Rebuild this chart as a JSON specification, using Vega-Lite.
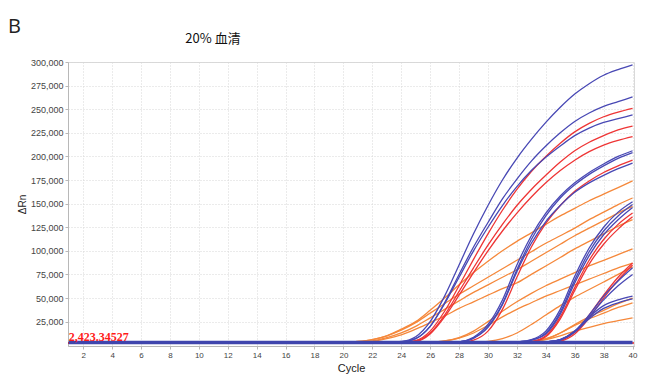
{
  "$schema": "https://vega.github.io/schema/vega-lite/v6.json",
  "width": 566,
  "height": 284,
  "autosize": {"type": "none"},
  "padding": {"left": 68, "top": 62, "right": 18, "bottom": 36},
  "background": "white",
  "title": {"text": "20% 血清", "anchor": "middle", "frame": "group", "dx": -138, "offset": -29, "font": "Noto Sans CJK SC", "fontSize": 13, "fontWeight": "normal", "color": "#111111"},
  "config": {
    "view": {"stroke": "#d9d9d9", "strokeWidth": 1},
    "axis": {"gridColor": "#d6d6d6", "gridDash": [1, 2], "gridWidth": 1, "domainColor": "#b8b8b8", "tickColor": "#b8b8b8", "labelFont": "Liberation Sans", "titleFont": "Liberation Sans", "labelColor": "#444444", "titleColor": "#222222", "titleFontWeight": "normal", "labelOverlap": false, "labelBound": false, "labelFlush": false, "tickCount": 60}
  },
  "datasets": {
    "ntc": [
      {"id": "N1", "cycle": 1, "rn": 2800}, {"id": "N1", "cycle": 40, "rn": 2800}
    ],
    "curves": [
      {"id":"O1","dye":"orange","cycle":1,"rn":2500},{"id":"O1","dye":"orange","cycle":19,"rn":2500},{"id":"O1","dye":"orange","cycle":20,"rn":3000},{"id":"O1","dye":"orange","cycle":21,"rn":4000},{"id":"O1","dye":"orange","cycle":22,"rn":6000},{"id":"O1","dye":"orange","cycle":23,"rn":10000},{"id":"O1","dye":"orange","cycle":24,"rn":17000},{"id":"O1","dye":"orange","cycle":25,"rn":25000},{"id":"O1","dye":"orange","cycle":26,"rn":37000},{"id":"O1","dye":"orange","cycle":27,"rn":50000},{"id":"O1","dye":"orange","cycle":28,"rn":64000},{"id":"O1","dye":"orange","cycle":29,"rn":77000},{"id":"O1","dye":"orange","cycle":30,"rn":89000},{"id":"O1","dye":"orange","cycle":31,"rn":100000},{"id":"O1","dye":"orange","cycle":32,"rn":110000},{"id":"O1","dye":"orange","cycle":33,"rn":119000},{"id":"O1","dye":"orange","cycle":34,"rn":128000},{"id":"O1","dye":"orange","cycle":35,"rn":137000},{"id":"O1","dye":"orange","cycle":36,"rn":145000},{"id":"O1","dye":"orange","cycle":37,"rn":153000},{"id":"O1","dye":"orange","cycle":38,"rn":160000},{"id":"O1","dye":"orange","cycle":39,"rn":167000},{"id":"O1","dye":"orange","cycle":40,"rn":174000},
      {"id":"O2","dye":"orange","cycle":1,"rn":2500},{"id":"O2","dye":"orange","cycle":19,"rn":2500},{"id":"O2","dye":"orange","cycle":20,"rn":3000},{"id":"O2","dye":"orange","cycle":21,"rn":4000},{"id":"O2","dye":"orange","cycle":22,"rn":6000},{"id":"O2","dye":"orange","cycle":23,"rn":10000},{"id":"O2","dye":"orange","cycle":24,"rn":16000},{"id":"O2","dye":"orange","cycle":25,"rn":24000},{"id":"O2","dye":"orange","cycle":26,"rn":34000},{"id":"O2","dye":"orange","cycle":27,"rn":44000},{"id":"O2","dye":"orange","cycle":28,"rn":54000},{"id":"O2","dye":"orange","cycle":29,"rn":63000},{"id":"O2","dye":"orange","cycle":30,"rn":72000},{"id":"O2","dye":"orange","cycle":31,"rn":81000},{"id":"O2","dye":"orange","cycle":32,"rn":90000},{"id":"O2","dye":"orange","cycle":33,"rn":99000},{"id":"O2","dye":"orange","cycle":34,"rn":108000},{"id":"O2","dye":"orange","cycle":35,"rn":116000},{"id":"O2","dye":"orange","cycle":36,"rn":124000},{"id":"O2","dye":"orange","cycle":37,"rn":133000},{"id":"O2","dye":"orange","cycle":38,"rn":141000},{"id":"O2","dye":"orange","cycle":39,"rn":149000},{"id":"O2","dye":"orange","cycle":40,"rn":156000},
      {"id":"O3","dye":"orange","cycle":1,"rn":2500},{"id":"O3","dye":"orange","cycle":20,"rn":2500},{"id":"O3","dye":"orange","cycle":21,"rn":3000},{"id":"O3","dye":"orange","cycle":22,"rn":4500},{"id":"O3","dye":"orange","cycle":23,"rn":8000},{"id":"O3","dye":"orange","cycle":24,"rn":13000},{"id":"O3","dye":"orange","cycle":25,"rn":20000},{"id":"O3","dye":"orange","cycle":26,"rn":29000},{"id":"O3","dye":"orange","cycle":27,"rn":38000},{"id":"O3","dye":"orange","cycle":28,"rn":47000},{"id":"O3","dye":"orange","cycle":29,"rn":56000},{"id":"O3","dye":"orange","cycle":30,"rn":64000},{"id":"O3","dye":"orange","cycle":31,"rn":72000},{"id":"O3","dye":"orange","cycle":32,"rn":80000},{"id":"O3","dye":"orange","cycle":33,"rn":89000},{"id":"O3","dye":"orange","cycle":34,"rn":98000},{"id":"O3","dye":"orange","cycle":35,"rn":107000},{"id":"O3","dye":"orange","cycle":36,"rn":116000},{"id":"O3","dye":"orange","cycle":37,"rn":124000},{"id":"O3","dye":"orange","cycle":38,"rn":132000},{"id":"O3","dye":"orange","cycle":39,"rn":140000},{"id":"O3","dye":"orange","cycle":40,"rn":147000},
      {"id":"O4","dye":"orange","cycle":1,"rn":2500},{"id":"O4","dye":"orange","cycle":20,"rn":2500},{"id":"O4","dye":"orange","cycle":21,"rn":3000},{"id":"O4","dye":"orange","cycle":22,"rn":4000},{"id":"O4","dye":"orange","cycle":23,"rn":7000},{"id":"O4","dye":"orange","cycle":24,"rn":11000},{"id":"O4","dye":"orange","cycle":25,"rn":17000},{"id":"O4","dye":"orange","cycle":26,"rn":24000},{"id":"O4","dye":"orange","cycle":27,"rn":31000},{"id":"O4","dye":"orange","cycle":28,"rn":39000},{"id":"O4","dye":"orange","cycle":29,"rn":46000},{"id":"O4","dye":"orange","cycle":30,"rn":53000},{"id":"O4","dye":"orange","cycle":31,"rn":60000},{"id":"O4","dye":"orange","cycle":32,"rn":66000},{"id":"O4","dye":"orange","cycle":33,"rn":75000},{"id":"O4","dye":"orange","cycle":34,"rn":84000},{"id":"O4","dye":"orange","cycle":35,"rn":93000},{"id":"O4","dye":"orange","cycle":36,"rn":102000},{"id":"O4","dye":"orange","cycle":37,"rn":110000},{"id":"O4","dye":"orange","cycle":38,"rn":118000},{"id":"O4","dye":"orange","cycle":39,"rn":126000},{"id":"O4","dye":"orange","cycle":40,"rn":133000},
      {"id":"O5","dye":"orange","cycle":1,"rn":2500},{"id":"O5","dye":"orange","cycle":25,"rn":2500},{"id":"O5","dye":"orange","cycle":26,"rn":3000},{"id":"O5","dye":"orange","cycle":27,"rn":4500},{"id":"O5","dye":"orange","cycle":28,"rn":8000},{"id":"O5","dye":"orange","cycle":29,"rn":15000},{"id":"O5","dye":"orange","cycle":30,"rn":25000},{"id":"O5","dye":"orange","cycle":31,"rn":36000},{"id":"O5","dye":"orange","cycle":32,"rn":46000},{"id":"O5","dye":"orange","cycle":33,"rn":55000},{"id":"O5","dye":"orange","cycle":34,"rn":63000},{"id":"O5","dye":"orange","cycle":35,"rn":70000},{"id":"O5","dye":"orange","cycle":36,"rn":77000},{"id":"O5","dye":"orange","cycle":37,"rn":84000},{"id":"O5","dye":"orange","cycle":38,"rn":90000},{"id":"O5","dye":"orange","cycle":39,"rn":96000},{"id":"O5","dye":"orange","cycle":40,"rn":102000},
      {"id":"O6","dye":"orange","cycle":1,"rn":2500},{"id":"O6","dye":"orange","cycle":25,"rn":2500},{"id":"O6","dye":"orange","cycle":26,"rn":3000},{"id":"O6","dye":"orange","cycle":27,"rn":4500},{"id":"O6","dye":"orange","cycle":28,"rn":7500},{"id":"O6","dye":"orange","cycle":29,"rn":13000},{"id":"O6","dye":"orange","cycle":30,"rn":21000},{"id":"O6","dye":"orange","cycle":31,"rn":30000},{"id":"O6","dye":"orange","cycle":32,"rn":38000},{"id":"O6","dye":"orange","cycle":33,"rn":45000},{"id":"O6","dye":"orange","cycle":34,"rn":52000},{"id":"O6","dye":"orange","cycle":35,"rn":58000},{"id":"O6","dye":"orange","cycle":36,"rn":64000},{"id":"O6","dye":"orange","cycle":37,"rn":70000},{"id":"O6","dye":"orange","cycle":38,"rn":76000},{"id":"O6","dye":"orange","cycle":39,"rn":82000},{"id":"O6","dye":"orange","cycle":40,"rn":87000},
      {"id":"O7","dye":"orange","cycle":1,"rn":2500},{"id":"O7","dye":"orange","cycle":28,"rn":2500},{"id":"O7","dye":"orange","cycle":29,"rn":3000},{"id":"O7","dye":"orange","cycle":30,"rn":4000},{"id":"O7","dye":"orange","cycle":31,"rn":7000},{"id":"O7","dye":"orange","cycle":32,"rn":13000},{"id":"O7","dye":"orange","cycle":33,"rn":22000},{"id":"O7","dye":"orange","cycle":34,"rn":32000},{"id":"O7","dye":"orange","cycle":35,"rn":42000},{"id":"O7","dye":"orange","cycle":36,"rn":51000},{"id":"O7","dye":"orange","cycle":37,"rn":59000},{"id":"O7","dye":"orange","cycle":38,"rn":67000},{"id":"O7","dye":"orange","cycle":39,"rn":75000},{"id":"O7","dye":"orange","cycle":40,"rn":83000},
      {"id":"O8","dye":"orange","cycle":1,"rn":2500},{"id":"O8","dye":"orange","cycle":31,"rn":2500},{"id":"O8","dye":"orange","cycle":32,"rn":3000},{"id":"O8","dye":"orange","cycle":33,"rn":4000},{"id":"O8","dye":"orange","cycle":34,"rn":7000},{"id":"O8","dye":"orange","cycle":35,"rn":13000},{"id":"O8","dye":"orange","cycle":36,"rn":22000},{"id":"O8","dye":"orange","cycle":37,"rn":30000},{"id":"O8","dye":"orange","cycle":38,"rn":37000},{"id":"O8","dye":"orange","cycle":39,"rn":44000},{"id":"O8","dye":"orange","cycle":40,"rn":50000},
      {"id":"O9","dye":"orange","cycle":1,"rn":2500},{"id":"O9","dye":"orange","cycle":32,"rn":2500},{"id":"O9","dye":"orange","cycle":33,"rn":3500},{"id":"O9","dye":"orange","cycle":34,"rn":6500},{"id":"O9","dye":"orange","cycle":35,"rn":13000},{"id":"O9","dye":"orange","cycle":36,"rn":21000},{"id":"O9","dye":"orange","cycle":37,"rn":28000},{"id":"O9","dye":"orange","cycle":38,"rn":34000},{"id":"O9","dye":"orange","cycle":39,"rn":40000},{"id":"O9","dye":"orange","cycle":40,"rn":45000},
      {"id":"O10","dye":"orange","cycle":1,"rn":2500},{"id":"O10","dye":"orange","cycle":32,"rn":2500},{"id":"O10","dye":"orange","cycle":33,"rn":3500},{"id":"O10","dye":"orange","cycle":34,"rn":6000},{"id":"O10","dye":"orange","cycle":35,"rn":10000},{"id":"O10","dye":"orange","cycle":36,"rn":15000},{"id":"O10","dye":"orange","cycle":37,"rn":19000},{"id":"O10","dye":"orange","cycle":38,"rn":23000},{"id":"O10","dye":"orange","cycle":39,"rn":26000},{"id":"O10","dye":"orange","cycle":40,"rn":29000},
      {"id":"R1","dye":"red","cycle":1,"rn":2500},{"id":"R1","dye":"red","cycle":23,"rn":2500},{"id":"R1","dye":"red","cycle":24,"rn":3000},{"id":"R1","dye":"red","cycle":25,"rn":5000},{"id":"R1","dye":"red","cycle":26,"rn":15000},{"id":"R1","dye":"red","cycle":27,"rn":36000},{"id":"R1","dye":"red","cycle":28,"rn":63000},{"id":"R1","dye":"red","cycle":29,"rn":91000},{"id":"R1","dye":"red","cycle":30,"rn":118000},{"id":"R1","dye":"red","cycle":31,"rn":143000},{"id":"R1","dye":"red","cycle":32,"rn":165000},{"id":"R1","dye":"red","cycle":33,"rn":184000},{"id":"R1","dye":"red","cycle":34,"rn":200000},{"id":"R1","dye":"red","cycle":35,"rn":214000},{"id":"R1","dye":"red","cycle":36,"rn":226000},{"id":"R1","dye":"red","cycle":37,"rn":235000},{"id":"R1","dye":"red","cycle":38,"rn":242000},{"id":"R1","dye":"red","cycle":39,"rn":247000},{"id":"R1","dye":"red","cycle":40,"rn":251000},
      {"id":"R2","dye":"red","cycle":1,"rn":2500},{"id":"R2","dye":"red","cycle":23,"rn":2500},{"id":"R2","dye":"red","cycle":24,"rn":3000},{"id":"R2","dye":"red","cycle":25,"rn":4500},{"id":"R2","dye":"red","cycle":26,"rn":13000},{"id":"R2","dye":"red","cycle":27,"rn":32000},{"id":"R2","dye":"red","cycle":28,"rn":57000},{"id":"R2","dye":"red","cycle":29,"rn":82000},{"id":"R2","dye":"red","cycle":30,"rn":106000},{"id":"R2","dye":"red","cycle":31,"rn":128000},{"id":"R2","dye":"red","cycle":32,"rn":148000},{"id":"R2","dye":"red","cycle":33,"rn":165000},{"id":"R2","dye":"red","cycle":34,"rn":180000},{"id":"R2","dye":"red","cycle":35,"rn":194000},{"id":"R2","dye":"red","cycle":36,"rn":206000},{"id":"R2","dye":"red","cycle":37,"rn":215000},{"id":"R2","dye":"red","cycle":38,"rn":222000},{"id":"R2","dye":"red","cycle":39,"rn":228000},{"id":"R2","dye":"red","cycle":40,"rn":232000},
      {"id":"R3","dye":"red","cycle":1,"rn":2500},{"id":"R3","dye":"red","cycle":23,"rn":2500},{"id":"R3","dye":"red","cycle":24,"rn":3000},{"id":"R3","dye":"red","cycle":25,"rn":4000},{"id":"R3","dye":"red","cycle":26,"rn":12000},{"id":"R3","dye":"red","cycle":27,"rn":30000},{"id":"R3","dye":"red","cycle":28,"rn":53000},{"id":"R3","dye":"red","cycle":29,"rn":77000},{"id":"R3","dye":"red","cycle":30,"rn":100000},{"id":"R3","dye":"red","cycle":31,"rn":121000},{"id":"R3","dye":"red","cycle":32,"rn":140000},{"id":"R3","dye":"red","cycle":33,"rn":157000},{"id":"R3","dye":"red","cycle":34,"rn":172000},{"id":"R3","dye":"red","cycle":35,"rn":185000},{"id":"R3","dye":"red","cycle":36,"rn":196000},{"id":"R3","dye":"red","cycle":37,"rn":205000},{"id":"R3","dye":"red","cycle":38,"rn":212000},{"id":"R3","dye":"red","cycle":39,"rn":217000},{"id":"R3","dye":"red","cycle":40,"rn":221000},
      {"id":"R4","dye":"red","cycle":1,"rn":2500},{"id":"R4","dye":"red","cycle":27,"rn":2500},{"id":"R4","dye":"red","cycle":28,"rn":3000},{"id":"R4","dye":"red","cycle":29,"rn":5500},{"id":"R4","dye":"red","cycle":30,"rn":15000},{"id":"R4","dye":"red","cycle":31,"rn":38000},{"id":"R4","dye":"red","cycle":32,"rn":72000},{"id":"R4","dye":"red","cycle":33,"rn":104000},{"id":"R4","dye":"red","cycle":34,"rn":129000},{"id":"R4","dye":"red","cycle":35,"rn":148000},{"id":"R4","dye":"red","cycle":36,"rn":163000},{"id":"R4","dye":"red","cycle":37,"rn":174000},{"id":"R4","dye":"red","cycle":38,"rn":183000},{"id":"R4","dye":"red","cycle":39,"rn":190000},{"id":"R4","dye":"red","cycle":40,"rn":196000},
      {"id":"R5","dye":"red","cycle":1,"rn":2500},{"id":"R5","dye":"red","cycle":31,"rn":2500},{"id":"R5","dye":"red","cycle":32,"rn":3000},{"id":"R5","dye":"red","cycle":33,"rn":4000},{"id":"R5","dye":"red","cycle":34,"rn":10000},{"id":"R5","dye":"red","cycle":35,"rn":30000},{"id":"R5","dye":"red","cycle":36,"rn":61000},{"id":"R5","dye":"red","cycle":37,"rn":90000},{"id":"R5","dye":"red","cycle":38,"rn":112000},{"id":"R5","dye":"red","cycle":39,"rn":128000},{"id":"R5","dye":"red","cycle":40,"rn":140000},
      {"id":"R6","dye":"red","cycle":1,"rn":2500},{"id":"R6","dye":"red","cycle":31,"rn":2500},{"id":"R6","dye":"red","cycle":32,"rn":3000},{"id":"R6","dye":"red","cycle":33,"rn":3500},{"id":"R6","dye":"red","cycle":34,"rn":9000},{"id":"R6","dye":"red","cycle":35,"rn":28000},{"id":"R6","dye":"red","cycle":36,"rn":58000},{"id":"R6","dye":"red","cycle":37,"rn":86000},{"id":"R6","dye":"red","cycle":38,"rn":107000},{"id":"R6","dye":"red","cycle":39,"rn":123000},{"id":"R6","dye":"red","cycle":40,"rn":136000},
      {"id":"R7","dye":"red","cycle":1,"rn":2500},{"id":"R7","dye":"red","cycle":33,"rn":2500},{"id":"R7","dye":"red","cycle":34,"rn":3000},{"id":"R7","dye":"red","cycle":35,"rn":5000},{"id":"R7","dye":"red","cycle":36,"rn":14000},{"id":"R7","dye":"red","cycle":37,"rn":32000},{"id":"R7","dye":"red","cycle":38,"rn":53000},{"id":"R7","dye":"red","cycle":39,"rn":72000},{"id":"R7","dye":"red","cycle":40,"rn":87000},
      {"id":"R8","dye":"red","cycle":1,"rn":2500},{"id":"R8","dye":"red","cycle":33,"rn":2500},{"id":"R8","dye":"red","cycle":34,"rn":3000},{"id":"R8","dye":"red","cycle":35,"rn":4500},{"id":"R8","dye":"red","cycle":36,"rn":12000},{"id":"R8","dye":"red","cycle":37,"rn":29000},{"id":"R8","dye":"red","cycle":38,"rn":50000},{"id":"R8","dye":"red","cycle":39,"rn":69000},{"id":"R8","dye":"red","cycle":40,"rn":85000},
      {"id":"B1","dye":"blue","cycle":1,"rn":2500},{"id":"B1","dye":"blue","cycle":22,"rn":2500},{"id":"B1","dye":"blue","cycle":23,"rn":3000},{"id":"B1","dye":"blue","cycle":24,"rn":4000},{"id":"B1","dye":"blue","cycle":25,"rn":9000},{"id":"B1","dye":"blue","cycle":26,"rn":25000},{"id":"B1","dye":"blue","cycle":27,"rn":52000},{"id":"B1","dye":"blue","cycle":28,"rn":85000},{"id":"B1","dye":"blue","cycle":29,"rn":118000},{"id":"B1","dye":"blue","cycle":30,"rn":148000},{"id":"B1","dye":"blue","cycle":31,"rn":175000},{"id":"B1","dye":"blue","cycle":32,"rn":198000},{"id":"B1","dye":"blue","cycle":33,"rn":218000},{"id":"B1","dye":"blue","cycle":34,"rn":236000},{"id":"B1","dye":"blue","cycle":35,"rn":252000},{"id":"B1","dye":"blue","cycle":36,"rn":266000},{"id":"B1","dye":"blue","cycle":37,"rn":277000},{"id":"B1","dye":"blue","cycle":38,"rn":286000},{"id":"B1","dye":"blue","cycle":39,"rn":292000},{"id":"B1","dye":"blue","cycle":40,"rn":297000},
      {"id":"B2","dye":"blue","cycle":1,"rn":2500},{"id":"B2","dye":"blue","cycle":22,"rn":2500},{"id":"B2","dye":"blue","cycle":23,"rn":3000},{"id":"B2","dye":"blue","cycle":24,"rn":3500},{"id":"B2","dye":"blue","cycle":25,"rn":7000},{"id":"B2","dye":"blue","cycle":26,"rn":20000},{"id":"B2","dye":"blue","cycle":27,"rn":45000},{"id":"B2","dye":"blue","cycle":28,"rn":75000},{"id":"B2","dye":"blue","cycle":29,"rn":104000},{"id":"B2","dye":"blue","cycle":30,"rn":130000},{"id":"B2","dye":"blue","cycle":31,"rn":155000},{"id":"B2","dye":"blue","cycle":32,"rn":176000},{"id":"B2","dye":"blue","cycle":33,"rn":195000},{"id":"B2","dye":"blue","cycle":34,"rn":211000},{"id":"B2","dye":"blue","cycle":35,"rn":225000},{"id":"B2","dye":"blue","cycle":36,"rn":237000},{"id":"B2","dye":"blue","cycle":37,"rn":246000},{"id":"B2","dye":"blue","cycle":38,"rn":253000},{"id":"B2","dye":"blue","cycle":39,"rn":258000},{"id":"B2","dye":"blue","cycle":40,"rn":263000},
      {"id":"B3","dye":"blue","cycle":1,"rn":2500},{"id":"B3","dye":"blue","cycle":22,"rn":2500},{"id":"B3","dye":"blue","cycle":23,"rn":3000},{"id":"B3","dye":"blue","cycle":24,"rn":3500},{"id":"B3","dye":"blue","cycle":25,"rn":7000},{"id":"B3","dye":"blue","cycle":26,"rn":20000},{"id":"B3","dye":"blue","cycle":27,"rn":44000},{"id":"B3","dye":"blue","cycle":28,"rn":72000},{"id":"B3","dye":"blue","cycle":29,"rn":100000},{"id":"B3","dye":"blue","cycle":30,"rn":125000},{"id":"B3","dye":"blue","cycle":31,"rn":148000},{"id":"B3","dye":"blue","cycle":32,"rn":168000},{"id":"B3","dye":"blue","cycle":33,"rn":185000},{"id":"B3","dye":"blue","cycle":34,"rn":199000},{"id":"B3","dye":"blue","cycle":35,"rn":211000},{"id":"B3","dye":"blue","cycle":36,"rn":222000},{"id":"B3","dye":"blue","cycle":37,"rn":230000},{"id":"B3","dye":"blue","cycle":38,"rn":236000},{"id":"B3","dye":"blue","cycle":39,"rn":240000},{"id":"B3","dye":"blue","cycle":40,"rn":244000},
      {"id":"B4","dye":"blue","cycle":1,"rn":2500},{"id":"B4","dye":"blue","cycle":27,"rn":2500},{"id":"B4","dye":"blue","cycle":28,"rn":3500},{"id":"B4","dye":"blue","cycle":29,"rn":8500},{"id":"B4","dye":"blue","cycle":30,"rn":22000},{"id":"B4","dye":"blue","cycle":31,"rn":48000},{"id":"B4","dye":"blue","cycle":32,"rn":85000},{"id":"B4","dye":"blue","cycle":33,"rn":116000},{"id":"B4","dye":"blue","cycle":34,"rn":140000},{"id":"B4","dye":"blue","cycle":35,"rn":158000},{"id":"B4","dye":"blue","cycle":36,"rn":172000},{"id":"B4","dye":"blue","cycle":37,"rn":183000},{"id":"B4","dye":"blue","cycle":38,"rn":192000},{"id":"B4","dye":"blue","cycle":39,"rn":200000},{"id":"B4","dye":"blue","cycle":40,"rn":206000},
      {"id":"B5","dye":"blue","cycle":1,"rn":2500},{"id":"B5","dye":"blue","cycle":27,"rn":2500},{"id":"B5","dye":"blue","cycle":28,"rn":3500},{"id":"B5","dye":"blue","cycle":29,"rn":7500},{"id":"B5","dye":"blue","cycle":30,"rn":20000},{"id":"B5","dye":"blue","cycle":31,"rn":44000},{"id":"B5","dye":"blue","cycle":32,"rn":80000},{"id":"B5","dye":"blue","cycle":33,"rn":112000},{"id":"B5","dye":"blue","cycle":34,"rn":137000},{"id":"B5","dye":"blue","cycle":35,"rn":156000},{"id":"B5","dye":"blue","cycle":36,"rn":170000},{"id":"B5","dye":"blue","cycle":37,"rn":181000},{"id":"B5","dye":"blue","cycle":38,"rn":190000},{"id":"B5","dye":"blue","cycle":39,"rn":198000},{"id":"B5","dye":"blue","cycle":40,"rn":204000},
      {"id":"B6","dye":"blue","cycle":1,"rn":2500},{"id":"B6","dye":"blue","cycle":27,"rn":2500},{"id":"B6","dye":"blue","cycle":28,"rn":3500},{"id":"B6","dye":"blue","cycle":29,"rn":7500},{"id":"B6","dye":"blue","cycle":30,"rn":19000},{"id":"B6","dye":"blue","cycle":31,"rn":43000},{"id":"B6","dye":"blue","cycle":32,"rn":78000},{"id":"B6","dye":"blue","cycle":33,"rn":108000},{"id":"B6","dye":"blue","cycle":34,"rn":131000},{"id":"B6","dye":"blue","cycle":35,"rn":148000},{"id":"B6","dye":"blue","cycle":36,"rn":162000},{"id":"B6","dye":"blue","cycle":37,"rn":172000},{"id":"B6","dye":"blue","cycle":38,"rn":180000},{"id":"B6","dye":"blue","cycle":39,"rn":187000},{"id":"B6","dye":"blue","cycle":40,"rn":193000},
      {"id":"B7","dye":"blue","cycle":1,"rn":2500},{"id":"B7","dye":"blue","cycle":31,"rn":2500},{"id":"B7","dye":"blue","cycle":32,"rn":3500},{"id":"B7","dye":"blue","cycle":33,"rn":6000},{"id":"B7","dye":"blue","cycle":34,"rn":15000},{"id":"B7","dye":"blue","cycle":35,"rn":38000},{"id":"B7","dye":"blue","cycle":36,"rn":73000},{"id":"B7","dye":"blue","cycle":37,"rn":103000},{"id":"B7","dye":"blue","cycle":38,"rn":125000},{"id":"B7","dye":"blue","cycle":39,"rn":141000},{"id":"B7","dye":"blue","cycle":40,"rn":152000},
      {"id":"B8","dye":"blue","cycle":1,"rn":2500},{"id":"B8","dye":"blue","cycle":31,"rn":2500},{"id":"B8","dye":"blue","cycle":32,"rn":3500},{"id":"B8","dye":"blue","cycle":33,"rn":5500},{"id":"B8","dye":"blue","cycle":34,"rn":13000},{"id":"B8","dye":"blue","cycle":35,"rn":35000},{"id":"B8","dye":"blue","cycle":36,"rn":69000},{"id":"B8","dye":"blue","cycle":37,"rn":99000},{"id":"B8","dye":"blue","cycle":38,"rn":121000},{"id":"B8","dye":"blue","cycle":39,"rn":137000},{"id":"B8","dye":"blue","cycle":40,"rn":149000},
      {"id":"B9","dye":"blue","cycle":1,"rn":2500},{"id":"B9","dye":"blue","cycle":31,"rn":2500},{"id":"B9","dye":"blue","cycle":32,"rn":3500},{"id":"B9","dye":"blue","cycle":33,"rn":5500},{"id":"B9","dye":"blue","cycle":34,"rn":12000},{"id":"B9","dye":"blue","cycle":35,"rn":33000},{"id":"B9","dye":"blue","cycle":36,"rn":66000},{"id":"B9","dye":"blue","cycle":37,"rn":95000},{"id":"B9","dye":"blue","cycle":38,"rn":117000},{"id":"B9","dye":"blue","cycle":39,"rn":133000},{"id":"B9","dye":"blue","cycle":40,"rn":146000},
      {"id":"B10","dye":"blue","cycle":1,"rn":2500},{"id":"B10","dye":"blue","cycle":33,"rn":2500},{"id":"B10","dye":"blue","cycle":34,"rn":3500},{"id":"B10","dye":"blue","cycle":35,"rn":6000},{"id":"B10","dye":"blue","cycle":36,"rn":15000},{"id":"B10","dye":"blue","cycle":37,"rn":32000},{"id":"B10","dye":"blue","cycle":38,"rn":52000},{"id":"B10","dye":"blue","cycle":39,"rn":68000},{"id":"B10","dye":"blue","cycle":40,"rn":82000},
      {"id":"B11","dye":"blue","cycle":1,"rn":2500},{"id":"B11","dye":"blue","cycle":33,"rn":2500},{"id":"B11","dye":"blue","cycle":34,"rn":3500},{"id":"B11","dye":"blue","cycle":35,"rn":6000},{"id":"B11","dye":"blue","cycle":36,"rn":14000},{"id":"B11","dye":"blue","cycle":37,"rn":30000},{"id":"B11","dye":"blue","cycle":38,"rn":48000},{"id":"B11","dye":"blue","cycle":39,"rn":63000},{"id":"B11","dye":"blue","cycle":40,"rn":75000},
      {"id":"B12","dye":"blue","cycle":1,"rn":2500},{"id":"B12","dye":"blue","cycle":33,"rn":2500},{"id":"B12","dye":"blue","cycle":34,"rn":3500},{"id":"B12","dye":"blue","cycle":35,"rn":6000},{"id":"B12","dye":"blue","cycle":36,"rn":15000},{"id":"B12","dye":"blue","cycle":37,"rn":30000},{"id":"B12","dye":"blue","cycle":38,"rn":42000},{"id":"B12","dye":"blue","cycle":39,"rn":48000},{"id":"B12","dye":"blue","cycle":40,"rn":52000},
      {"id":"B13","dye":"blue","cycle":1,"rn":2500},{"id":"B13","dye":"blue","cycle":33,"rn":2500},{"id":"B13","dye":"blue","cycle":34,"rn":3500},{"id":"B13","dye":"blue","cycle":35,"rn":5500},{"id":"B13","dye":"blue","cycle":36,"rn":14000},{"id":"B13","dye":"blue","cycle":37,"rn":28000},{"id":"B13","dye":"blue","cycle":38,"rn":39000},{"id":"B13","dye":"blue","cycle":39,"rn":45000},{"id":"B13","dye":"blue","cycle":40,"rn":49000}
    ]
  },
  "layer": [
    {
      "data": {"name": "curves"},
      "mark": {"type": "line", "interpolate": "monotone", "strokeWidth": 1.3, "clip": true},
      "encoding": {
        "x": {"field": "cycle", "type": "quantitative", "scale": {"domain": [0.95, 40.1], "nice": false, "zero": false},
          "axis": {"values": [2,4,6,8,10,12,14,16,18,20,22,24,26,28,30,32,34,36,38,40], "format": "d", "tickCount": 60, "labelOverlap": false, "labelBound": false, "labelFlush": false, "title": "Cycle", "labelFontSize": 8, "tickSize": 3, "labelPadding": 2, "titleFontSize": 11, "titlePadding": 3}},
        "y": {"field": "rn", "type": "quantitative", "scale": {"domain": [-800, 300000], "nice": false, "zero": false},
          "axis": {"values": [25000,50000,75000,100000,125000,150000,175000,200000,225000,250000,275000,300000], "tickCount": 60, "labelOverlap": false, "labelBound": false, "labelFlush": false, "format": ",d", "title": "ΔRn", "labelFontSize": 9, "tickSize": 3, "labelPadding": 2, "titleFontSize": 10, "titlePadding": 3}},
        "color": {"field": "dye", "type": "nominal", "legend": null, "scale": {"domain": ["orange", "red", "blue"], "range": ["#f5883b", "#ee3535", "#4848b4"]}},
        "detail": {"field": "id"}
      }
    },
    {
      "data": {"values": [{}]},
      "mark": {"type": "rule", "color": "#ee2222", "strokeWidth": 1.5},
      "encoding": {"y": {"datum": 2423}}
    },
    {
      "data": {"name": "ntc"},
      "mark": {"type": "line", "color": "#3f45ad", "strokeWidth": 3.5},
      "encoding": {
        "x": {"field": "cycle", "type": "quantitative"},
        "y": {"field": "rn", "type": "quantitative"},
        "detail": {"field": "id"}
      }
    },
    {
      "data": {"values": [{}]},
      "mark": {"type": "text", "text": "2,423.34527", "font": "Liberation Serif", "fontWeight": "bold", "fontSize": 12, "color": "#ff1a1a", "align": "left", "baseline": "alphabetic", "dy": -2},
      "encoding": {"x": {"datum": 1}, "y": {"datum": 2423}}
    },
    {
      "data": {"values": [{}]},
      "mark": {"type": "text", "text": "B", "font": "Open Sans", "fontSize": 20, "color": "#222222", "align": "left", "baseline": "alphabetic"},
      "encoding": {"x": {"datum": -3.2}, "y": {"datum": 330700}}
    }
  ]
}
